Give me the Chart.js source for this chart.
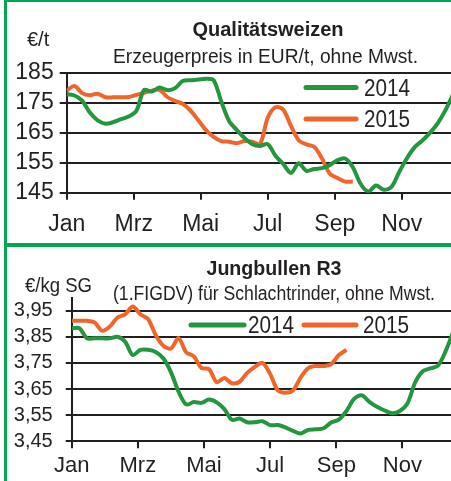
<!DOCTYPE html>
<html>
<head>
<meta charset="utf-8">
<script src="https://cdn.jsdelivr.net/npm/chart.js@4.4.1/dist/chart.umd.min.js"></script>
<style>
  html, body { margin:0; padding:0; background:#fff; }
  body { width:451px; height:481px; position:relative; overflow:hidden; }
  canvas { position:absolute; left:0; }
  #chartWeizen { top:0; }
  #chartBullen { top:247px; }
  .rand { position:absolute; background:#00a651; }
</style>
</head>
<body>
<canvas id="chartWeizen" width="451" height="243"></canvas>
<canvas id="chartBullen" width="451" height="234"></canvas>
<div class="rand" style="left:4px;top:0;width:3px;height:481px"></div>
<div class="rand" style="left:4px;top:0;width:447px;height:2px"></div>
<div class="rand" style="left:4px;top:243px;width:447px;height:4px"></div>
<script>

// =========================================
// DATEN (Wochenwerte)
// =========================================
const monate = ['Jan', 'Mrz', 'Mai', 'Jul', 'Sep', 'Nov'];
const monatWochen = [0, 8.67, 17.33, 26, 34.67, 43.33];

const weizenTicks = [145, 155, 165, 175, 185];
const bullenTicks = [3.45, 3.55, 3.65, 3.75, 3.85, 3.95];

const weizen2014 = [177.8,177.4,175.7,171.7,169.1,168.0,168.5,169.5,170.4,172.2,179.2,178.7,180.1,179.2,179.8,182.2,182.5,182.7,183.0,182.5,175.3,168.9,165.9,163.2,161.2,160.6,161.2,157.3,154.6,151.6,154.8,152.3,152.9,153.2,154.2,155.8,156.4,153.5,148.0,145.4,147.4,146.0,146.9,151.9,156.5,160.2,162.4,165.0,168.2,172.6,178.0];
const weizen2015 = [179.0,180.6,178.2,177.5,178.0,176.8,176.8,176.8,176.9,177.6,178.3,179.0,179.3,176.9,175.6,174.6,172.4,169.2,165.9,163.6,162.2,162.0,161.5,162.2,162.0,161.2,170.0,173.5,172.7,167.3,162.5,161.1,160.3,156.5,151.4,149.9,148.7,148.7];

const bullen2014 = [3.883,3.883,3.844,3.844,3.844,3.844,3.850,3.831,3.780,3.800,3.800,3.792,3.768,3.715,3.640,3.591,3.600,3.597,3.610,3.599,3.573,3.532,3.537,3.523,3.523,3.527,3.512,3.512,3.503,3.490,3.480,3.494,3.496,3.500,3.522,3.533,3.566,3.612,3.626,3.601,3.582,3.568,3.557,3.566,3.595,3.675,3.718,3.729,3.740,3.795,3.870];
const bullen2015 = [3.911,3.911,3.911,3.905,3.873,3.889,3.924,3.936,3.966,3.936,3.918,3.857,3.816,3.805,3.845,3.791,3.775,3.731,3.726,3.676,3.692,3.672,3.678,3.712,3.735,3.750,3.708,3.645,3.636,3.645,3.694,3.730,3.738,3.738,3.745,3.780,3.800];

// =========================================
// FARBEN / SCHRIFT
// =========================================
const GRUEN = '#23963f';
const ORANGE = '#f0662a';
const LINIE = '#231f20';
const TEXT = '#231f20';
const SANS = '"Liberation Sans", Arial, sans-serif';
const NARROW = '"Liberation Sans Narrow", "Arial Narrow", sans-serif';

// =========================================
// TITEL, EINHEIT, LEGENDE
// =========================================
function texte(t){

  return {
    id: 'texte',
    afterDraw(chart){

      const ctx = chart.ctx;
      ctx.save();
      ctx.fillStyle = TEXT;
      ctx.textBaseline = 'alphabetic';

      ctx.textAlign = 'center';
      ctx.font = 'bold 20px ' + SANS;
      ctx.fillText(t.titel, t.titelX, t.titelY, t.titelW);

      ctx.font = '20px ' + SANS;
      ctx.fillText(t.unter, t.unterX, t.unterY, t.unterW);

      ctx.textAlign = 'left';
      ctx.font = '20px ' + SANS;
      ctx.fillText(t.einheit, t.einheitX, t.einheitY, t.einheitW);

      chart.data.datasets.forEach((ds, i) => {
        const l = t.legende[i];
        ctx.strokeStyle = ds.borderColor;
        ctx.lineWidth = 5;
        ctx.lineCap = 'round';
        ctx.beginPath();
        ctx.moveTo(l.x1, l.y);
        ctx.lineTo(l.x2, l.y);
        ctx.stroke();
        ctx.textBaseline = 'middle';
        ctx.font = '23px ' + SANS;
        ctx.fillText(ds.label, l.tx, l.ty, 46);
      });

      ctx.restore();
    }
  };
}

// =========================================
// DIAGRAMM
// =========================================
function diagramm(id, c){

  return new Chart(document.getElementById(id), {

    type: 'line',

    data: {
      datasets: [{
        label: '2014',
        data: c.d2014.map((v, i) => ({ x: i, y: v })),
        borderColor: GRUEN,
        borderWidth: 4,
        pointRadius: 0,
        tension: 0.3
      }, {
        label: '2015',
        data: c.d2015.map((v, i) => ({ x: i, y: v })),
        borderColor: ORANGE,
        borderWidth: 4,
        pointRadius: 0,
        tension: 0.3
      }]
    },

    options: {
      responsive: false,
      animation: false,
      layout: { padding: { top: c.oben, left: 0, right: 0, bottom: 0 } },
      plugins: {
        legend: { display: false },
        tooltip: { enabled: false }
      },
      scales: {
        x: {
          type: 'linear',
          min: 0,
          max: 49.7,
          afterBuildTicks: s => { s.ticks = monatWochen.map(v => ({ value: v })); },
          afterFit: s => { s.height = c.xHoehe; },
          ticks: {
            callback: v => monate[monatWochen.indexOf(v)],
            font: { family: NARROW, size: c.xSchrift },
            color: TEXT,
            padding: c.xPad,
            maxRotation: 0,
            autoSkip: false
          },
          grid: { drawOnChartArea: false, tickLength: 7, color: LINIE, lineWidth: 2 },
          border: { color: LINIE, width: 2 }
        },
        y: {
          min: c.min,
          max: c.max,
          afterBuildTicks: s => { s.ticks = c.ticks.map(v => ({ value: v })); },
          afterFit: s => { s.width = c.yBreite; },
          ticks: {
            callback: c.format,
            font: { family: SANS, size: c.ySchrift },
            color: TEXT,
            padding: c.yPad,
            autoSkip: false
          },
          grid: { tickLength: c.yTick, color: LINIE, lineWidth: 2 },
          border: { color: LINIE, width: 2 }
        }
      }
    },

    plugins: [texte(c.texte)]

  });
}

// =========================================
// QUALITÄTSWEIZEN
// =========================================
diagramm('chartWeizen', {
  d2014: weizen2014,
  d2015: weizen2015,
  min: 145, max: 185, ticks: weizenTicks,
  format: v => String(v),
  oben: 72.7, xHoehe: 50.3, yBreite: 66.7,
  xSchrift: 23, xPad: 11, ySchrift: 23, yPad: 6, yTick: 7,
  texte: {
    titel: 'Qualitätsweizen', titelX: 268, titelY: 36, titelW: 153,
    unter: 'Erzeugerpreis in EUR/t, ohne Mwst.', unterX: 265.5, unterY: 63, unterW: 305,
    einheit: '€/t', einheitX: 27, einheitY: 46, einheitW: 25,
    legende: [
      { x1: 306, x2: 356, y: 87.5, tx: 364, ty: 89.5 },
      { x1: 306, x2: 356, y: 119, tx: 364, ty: 121 }
    ]
  }
});

// =========================================
// JUNGBULLEN R3
// =========================================
diagramm('chartBullen', {
  d2014: bullen2014,
  d2015: bullen2015,
  min: 3.45, max: 4.0, ticks: bullenTicks,
  format: v => v.toFixed(2).replace('.', ','),
  oben: 50.6, xHoehe: 39.7, yBreite: 71.7,
  xSchrift: 22, xPad: 4, ySchrift: 20, yPad: 13, yTick: 6,
  texte: {
    titel: 'Jungbullen R3', titelX: 274, titelY: 28, titelW: 135,
    unter: '(1.FIGDV) für Schlachtrinder, ohne Mwst.', unterX: 274, unterY: 53, unterW: 322,
    einheit: '€/kg SG', einheitX: 25, einheitY: 44.5, einheitW: 67,
    legende: [
      { x1: 191, x2: 244, y: 78, tx: 248, ty: 79.7 },
      { x1: 304, x2: 356, y: 78, tx: 363, ty: 79.7 }
    ]
  }
});

</script>
</body>
</html>
